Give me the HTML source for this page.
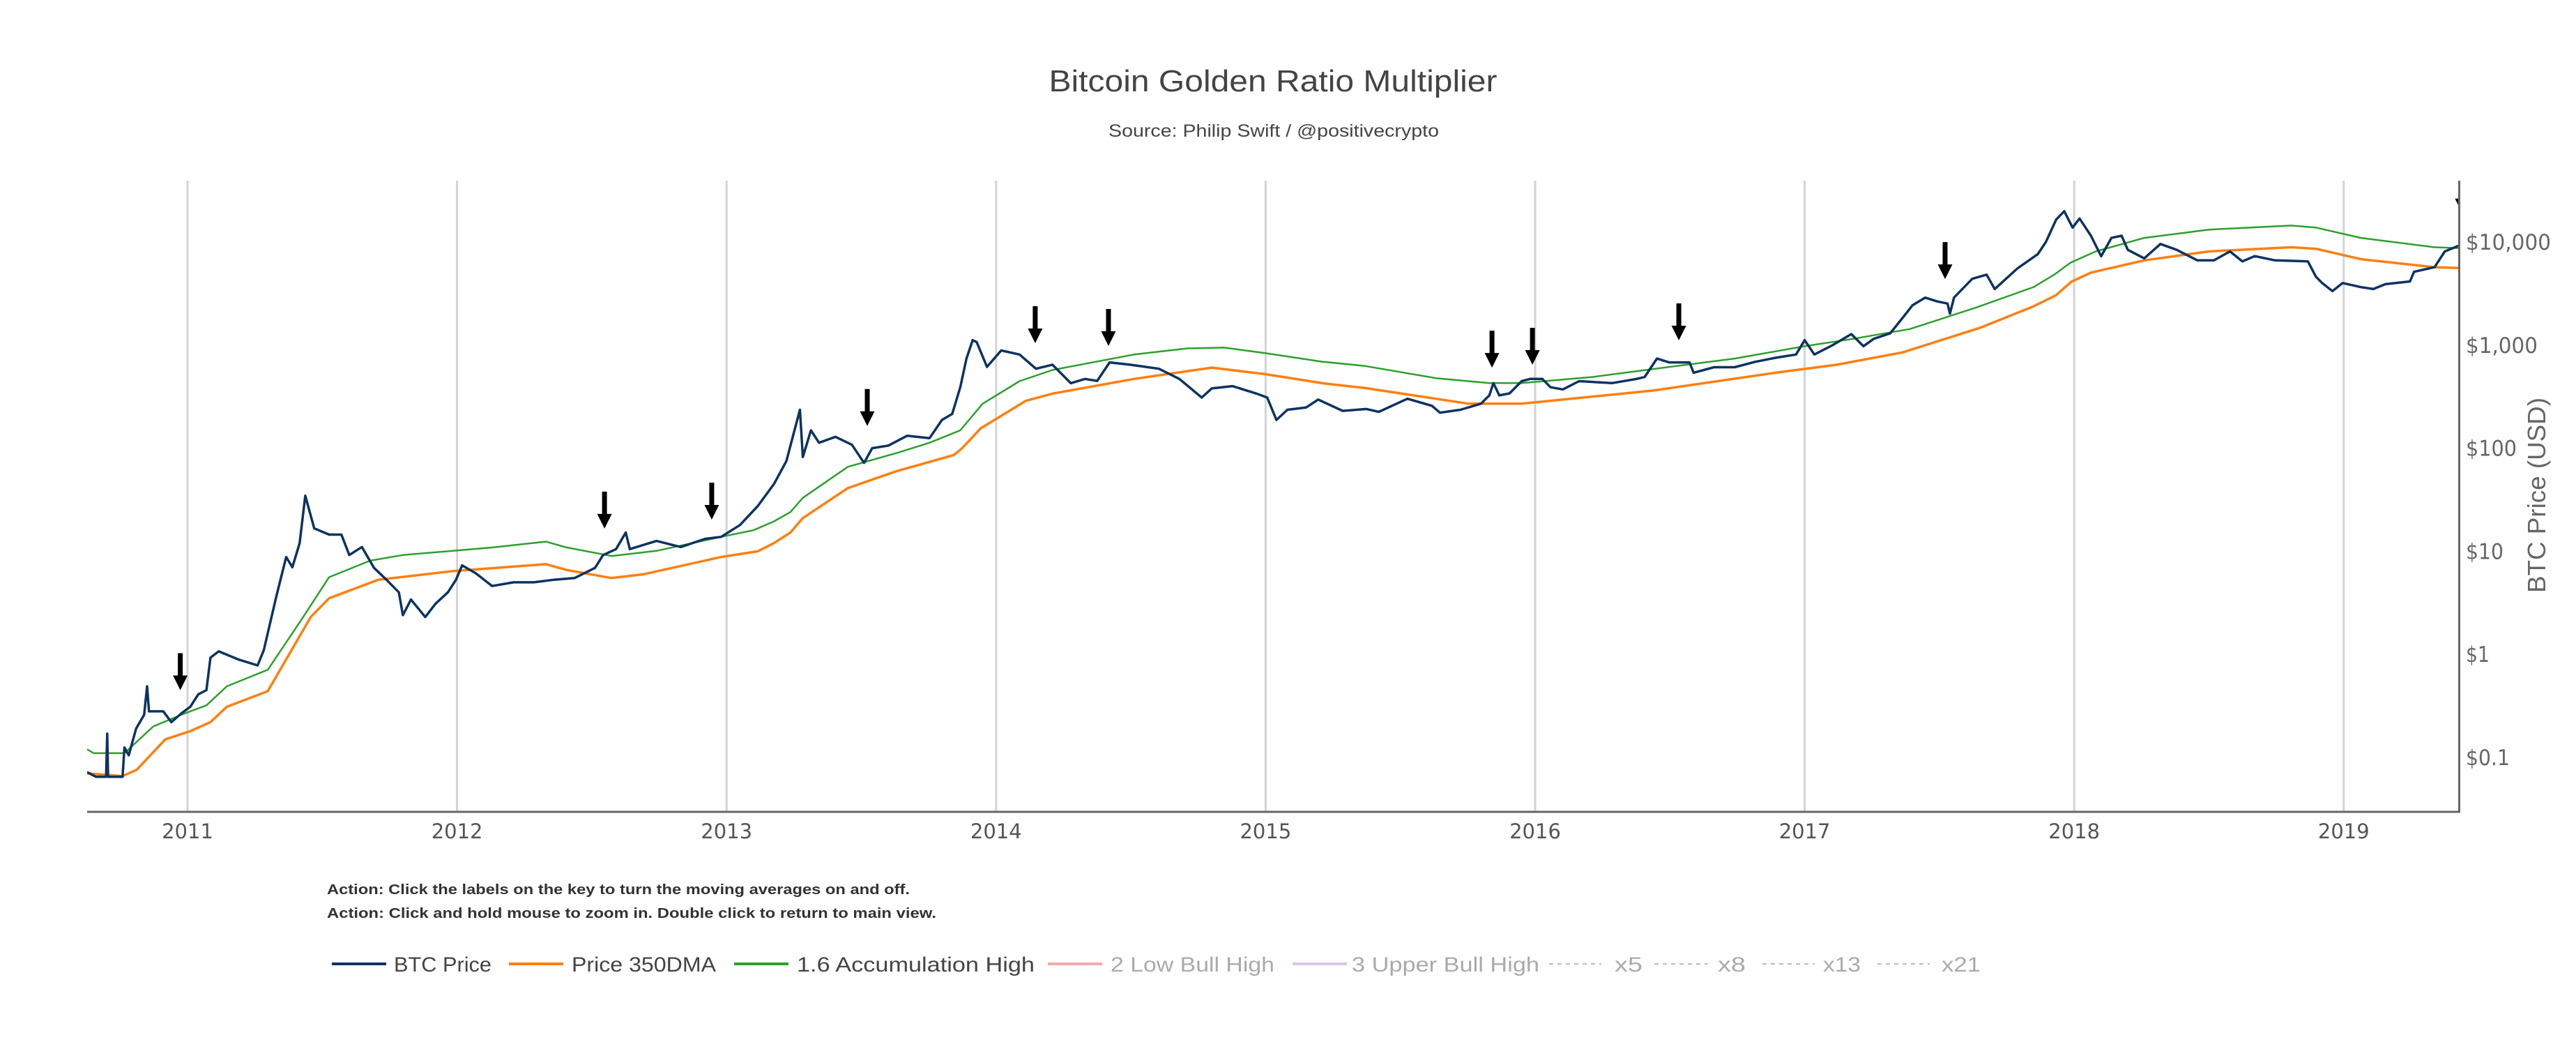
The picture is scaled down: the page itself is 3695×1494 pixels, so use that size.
<!DOCTYPE html>
<html><head><meta charset="utf-8"><title>Bitcoin Golden Ratio Multiplier</title>
<style>
html,body{margin:0;padding:0;background:#fff;}
svg{display:block;}
</style></head>
<body>
<svg id="chart" xmlns="http://www.w3.org/2000/svg" width="3695" height="1494" viewBox="0 0 3695 1494">
<rect x="0" y="0" width="3695" height="1494" fill="#fff"/>
<text x="1826" y="131" text-anchor="middle" font-family="Liberation Sans, sans-serif" font-size="44" fill="#444" textLength="643" lengthAdjust="spacingAndGlyphs">Bitcoin Golden Ratio Multiplier</text>
<text x="1827" y="196" text-anchor="middle" font-family="Liberation Sans, sans-serif" font-size="25" fill="#444" textLength="474" lengthAdjust="spacingAndGlyphs">Source: Philip Swift / @positivecrypto</text>
<defs><clipPath id="plotclip"><rect x="125" y="259" width="3402" height="904"/></clipPath></defs>
<g id="grid"></g>
<g id="series" clip-path="url(#plotclip)"></g>
<g id="arrows" clip-path="url(#plotclip)"></g>
<line x1="125" y1="1164" x2="3529" y2="1164" stroke="#666" stroke-width="3"/>
<line x1="3527.5" y1="259" x2="3527.5" y2="1165" stroke="#666" stroke-width="3"/>
<g id="xticks"></g>
<g id="yticks"></g>
<text transform="translate(3651,710) rotate(-90)" text-anchor="middle" font-family="Liberation Sans, sans-serif" font-size="36" fill="#666" textLength="280" lengthAdjust="spacingAndGlyphs">BTC Price (USD)</text>
<text x="469" y="1282" font-family="Liberation Sans, sans-serif" font-size="20" font-weight="bold" fill="#333" textLength="836" lengthAdjust="spacingAndGlyphs">Action: Click the labels on the key to turn the moving averages on and off.</text>
<text x="469" y="1316" font-family="Liberation Sans, sans-serif" font-size="20" font-weight="bold" fill="#333" textLength="874" lengthAdjust="spacingAndGlyphs">Action: Click and hold mouse to zoom in.  Double click to return to main view.</text>
<g id="legend">
 <g><line x1="476" y1="1382" x2="554" y2="1382" stroke="#0c3362" stroke-width="4"/><text x="565" y="1393" font-family="Liberation Sans, sans-serif" font-size="30" fill="#444" textLength="140" lengthAdjust="spacingAndGlyphs">BTC Price</text></g>
 <g><line x1="730" y1="1382" x2="808" y2="1382" stroke="#ff7f0e" stroke-width="4"/><text x="820" y="1393" font-family="Liberation Sans, sans-serif" font-size="30" fill="#444" textLength="207" lengthAdjust="spacingAndGlyphs">Price 350DMA</text></g>
 <g><line x1="1053" y1="1382" x2="1131" y2="1382" stroke="#2ca02c" stroke-width="4"/><text x="1143" y="1393" font-family="Liberation Sans, sans-serif" font-size="30" fill="#444" textLength="341" lengthAdjust="spacingAndGlyphs">1.6 Accumulation High</text></g>
 <g><line x1="1503" y1="1382" x2="1581" y2="1382" stroke="#f4a9a9" stroke-width="4"/><text x="1593" y="1393" font-family="Liberation Sans, sans-serif" font-size="30" fill="#aaa" textLength="235" lengthAdjust="spacingAndGlyphs">2 Low Bull High</text></g>
 <g><line x1="1854" y1="1382" x2="1932" y2="1382" stroke="#d9c6ec" stroke-width="4"/><text x="1939" y="1393" font-family="Liberation Sans, sans-serif" font-size="30" fill="#aaa" textLength="269" lengthAdjust="spacingAndGlyphs">3 Upper Bull High</text></g>
 <g><line x1="2222" y1="1382" x2="2297" y2="1382" stroke="#bbb" stroke-width="2" stroke-dasharray="6,6"/><text x="2316" y="1393" font-family="Liberation Sans, sans-serif" font-size="30" fill="#aaa" textLength="40" lengthAdjust="spacingAndGlyphs">x5</text></g>
 <g><line x1="2373" y1="1382" x2="2450" y2="1382" stroke="#bbb" stroke-width="2" stroke-dasharray="6,6"/><text x="2464" y="1393" font-family="Liberation Sans, sans-serif" font-size="30" fill="#aaa" textLength="40" lengthAdjust="spacingAndGlyphs">x8</text></g>
 <g><line x1="2528" y1="1382" x2="2603" y2="1382" stroke="#bbb" stroke-width="2" stroke-dasharray="6,6"/><text x="2615" y="1393" font-family="Liberation Sans, sans-serif" font-size="30" fill="#aaa" textLength="54" lengthAdjust="spacingAndGlyphs">x13</text></g>
 <g><line x1="2693" y1="1382" x2="2768" y2="1382" stroke="#bbb" stroke-width="2" stroke-dasharray="6,6"/><text x="2785" y="1393" font-family="Liberation Sans, sans-serif" font-size="30" fill="#aaa" textLength="56" lengthAdjust="spacingAndGlyphs">x21</text></g>
</g>
</svg>
<script>
const yearTicks = [2011,2012,2013,2014,2015,2016,2017,2018,2019];
const priceTicks = [10000,1000,100,10,1,0.1];
const priceTickLabels = ["$10,000","$1,000","$100","$10","$1","$0.1"];
const priceDates = [2010.627,2010.66,2010.698,2010.702,2010.705,2010.759,2010.766,2010.782,2010.809,2010.839,2010.85,2010.857,2010.91,2010.94,2010.979,2011.01,2011.04,2011.07,2011.085,2011.116,2011.19,2011.26,2011.283,2011.33,2011.366,2011.389,2011.416,2011.437,2011.47,2011.525,2011.571,2011.6,2011.647,2011.692,2011.738,2011.784,2011.799,2011.829,2011.882,2011.92,2011.966,2011.996,2012.019,2012.07,2012.13,2012.21,2012.285,2012.36,2012.436,2012.512,2012.542,2012.59,2012.626,2012.641,2012.74,2012.83,2012.92,2012.98,2013.05,2013.116,2013.176,2013.222,2013.252,2013.272,2013.283,2013.313,2013.343,2013.404,2013.465,2013.51,2013.54,2013.6,2013.67,2013.753,2013.799,2013.837,2013.867,2013.89,2013.913,2013.928,2013.966,2014.019,2014.087,2014.148,2014.209,2014.277,2014.33,2014.375,2014.421,2014.497,2014.604,2014.68,2014.763,2014.8,2014.877,2014.967,2015.006,2015.04,2015.081,2015.15,2015.195,2015.286,2015.374,2015.42,2015.526,2015.617,2015.647,2015.723,2015.799,2015.83,2015.845,2015.867,2015.905,2015.95,2015.981,2016.027,2016.057,2016.103,2016.163,2016.285,2016.376,2016.406,2016.452,2016.497,2016.573,2016.588,2016.664,2016.74,2016.816,2016.892,2016.968,2017.0,2017.036,2017.104,2017.173,2017.218,2017.256,2017.317,2017.364,2017.4,2017.447,2017.492,2017.53,2017.539,2017.554,2017.622,2017.675,2017.705,2017.789,2017.865,2017.895,2017.933,2017.963,2017.994,2018.02,2018.062,2018.1,2018.138,2018.176,2018.199,2018.26,2018.32,2018.381,2018.457,2018.518,2018.578,2018.624,2018.67,2018.745,2018.867,2018.897,2018.92,2018.958,2018.996,2019.064,2019.11,2019.155,2019.246,2019.261,2019.337,2019.375,2019.413,2019.425];
const priceValues = [0.072,0.065,0.065,0.17,0.065,0.065,0.125,0.105,0.19,0.26,0.49,0.28,0.28,0.22,0.27,0.31,0.41,0.45,0.93,1.07,0.89,0.78,1.1,3.7,8.8,7,12,34.6,16.7,14.5,14.5,9.2,11,6.9,5.3,4,2.4,3.4,2.3,3.1,4,5.3,7.3,6.1,4.6,5.0,5,5.3,5.5,6.9,9.2,10.5,15.2,10.5,12.6,11,13.2,13.8,18,27.5,45,75,149,236,82,149,113,129,108,72,100,106,132,125,188,215,390,740,1117,1070,615,887,810,590,645,427,470,450,680,645,590,470,310,380,400,338,310,188,236,248,296,230,240,225,302,258,221,236,270,325,428,325,340,447,470,470,390,372,447,428,470,490,740,680,680,540,610,610,688,753,810,1117,810,1000,1280,975,1150,1300,1845,2430,2890,2650,2530,2020,2890,4400,4820,3500,5530,7620,10000,16500,19900,13800,16900,11500,7280,10970,11500,8400,6950,9570,8390,6640,6640,8100,6500,7300,6640,6500,4600,4000,3340,4000,3650,3500,3900,4150,5140,5700,8100,8900,9200];
const dmaDates = [2010.627,2010.759,2010.812,2010.918,2011.01,2011.085,2011.146,2011.298,2011.457,2011.525,2011.708,2011.981,2012.33,2012.405,2012.573,2012.694,2012.98,2013.116,2013.176,2013.237,2013.283,2013.45,2013.632,2013.844,2013.874,2013.943,2014.11,2014.209,2014.512,2014.8,2014.998,2015.21,2015.37,2015.753,2015.95,2016.437,2016.892,2017.12,2017.364,2017.65,2017.85,2017.933,2017.99,2018.062,2018.26,2018.5,2018.806,2018.897,2019.064,2019.337,2019.425];
const dmaValues = [0.07,0.066,0.076,0.15,0.18,0.22,0.31,0.44,2.3,3.5,5.3,6.4,7.5,6.6,5.5,6,8.8,10,12,15.2,21,41,60,86,100,156,288,338,470,605,523,427,383,270,270,362,540,645,850,1470,2380,3050,4130,5050,6640,8100,8900,8600,6820,5700,5600];
const accDates = [2010.627,2010.652,2010.766,2010.873,2010.994,2011.07,2011.146,2011.298,2011.419,2011.525,2011.677,2011.799,2012.133,2012.33,2012.406,2012.573,2012.74,2012.98,2013.1,2013.176,2013.237,2013.283,2013.45,2013.632,2013.753,2013.867,2013.95,2014.087,2014.209,2014.512,2014.71,2014.846,2015.0,2015.21,2015.37,2015.632,2015.83,2015.95,2016.21,2016.44,2016.74,2017.0,2017.18,2017.39,2017.637,2017.85,2017.93,2017.986,2018.08,2018.26,2018.5,2018.806,2018.897,2019.064,2019.337,2019.425];
const accValues = [0.12,0.11,0.11,0.2,0.27,0.32,0.49,0.71,2.1,5.6,8.1,9.2,10.9,12.4,10.9,9,10.1,13.8,16,19.5,24,33,66,90,113,149,270,447,573,810,930,945,835,690,627,478,428,428,490,587,740,975,1150,1430,2320,3660,4900,6300,8100,10970,13200,14450,13800,10970,8900,8750];
const arrowDates = [2010.973,2012.547,2012.945,2013.522,2014.145,2014.417,2015.840,2015.990,2016.533,2017.521,2019.44];
const arrowPrices = [0.45,16.6,20.3,164,1045,982,605,644,1112,4375,19000];

const NS = "http://www.w3.org/2000/svg";
function xScale(yr){ return 269 + (yr - 2011) * 386.6; }
function yScale(v){ return 347 + (4 - Math.log10(v)) * 147.8; }
function mk(tag, attrs, parent){
  const el = document.createElementNS(NS, tag);
  for (const k in attrs) el.setAttribute(k, attrs[k]);
  parent.appendChild(el);
  return el;
}
const grid = document.getElementById('grid');
const xt = document.getElementById('xticks');
yearTicks.forEach(function(y){
  const gl = mk('line', {x1:xScale(y), x2:xScale(y), y1:259, y2:1163, stroke:'#d4d4d4', 'stroke-width':3}, grid);
  
  
  const t = mk('text', {x:xScale(y), y:1202, 'text-anchor':'middle', 'font-family':'DejaVu Sans, sans-serif', 'font-size':29, fill:'#555'}, xt);
  t.textContent = String(y);
  
  
});
const yt = document.getElementById('yticks');
const tickLens = [122,103,73,54,34,63];
priceTicks.forEach(function(v, i){
  const t = mk('text', {x:3537, y:yScale(v)+11, 'font-family':'DejaVu Sans, sans-serif', 'font-size':31, fill:'#666', textLength:tickLens[i], lengthAdjust:'spacingAndGlyphs'}, yt);
  t.textContent = priceTickLabels[i];
  
  
});
function pathFrom(dates, vals){
  let d = '';
  for (let i = 0; i < dates.length; i++){
    d += (i ? 'L' : 'M') + xScale(dates[i]).toFixed(1) + ',' + yScale(vals[i]).toFixed(1);
  }
  return d;
}
const series = document.getElementById('series');
const pAcc = mk('path', {d:pathFrom(accDates, accValues), fill:'none', stroke:'#2ca02c', 'stroke-width':2.5, 'stroke-linejoin':'round'}, series);


const pDma = mk('path', {d:pathFrom(dmaDates, dmaValues), fill:'none', stroke:'#ff7f0e', 'stroke-width':3.5, 'stroke-linejoin':'round'}, series);


const pPrice = mk('path', {d:pathFrom(priceDates, priceValues), fill:'none', stroke:'#0c3362', 'stroke-width':3.5, 'stroke-linejoin':'round'}, series);


const ar = document.getElementById('arrows');
arrowDates.forEach(function(d, i){
  const x = xScale(d), tip = yScale(arrowPrices[i]);
  const pts = [[x-3.5,tip-53],[x+3.5,tip-53],[x+3.5,tip-21],[x+10.5,tip-21],[x,tip],[x-10.5,tip-21],[x-3.5,tip-21]];
  const a = mk('polygon', {points:pts.map(function(p){return p[0].toFixed(1)+','+p[1].toFixed(1);}).join(' '), fill:'#000'}, ar);
  
  
});
</script>
</body></html>
